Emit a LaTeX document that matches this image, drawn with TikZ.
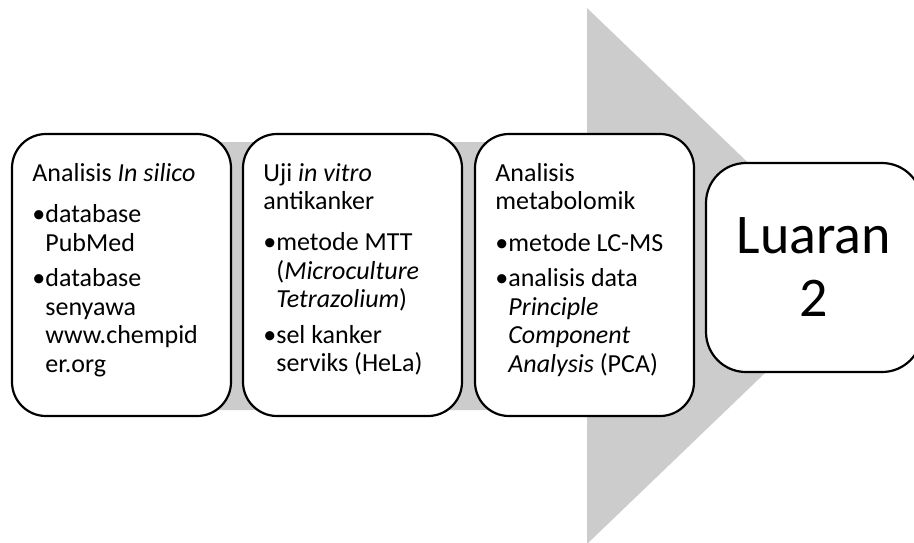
\documentclass[tikz,border=0pt]{standalone}
\usepackage{fontspec}
\setmainfont{Carlito}
\usetikzlibrary{positioning}
\definecolor{arrowgrey}{HTML}{CCCCCC}
% bullet item with hanging indent
\newcommand{\bul}[1]{\par\vspace{3.7pt}\hangindent=6.5pt\hangafter=1\noindent\makebox[6.5pt][l]{\textbullet}#1\par}

\begin{document}
\begin{tikzpicture}[
  x=0.5pt, y=-0.5pt,
  stage/.style={draw=black, line width=1.1pt, fill=white, rounded corners=17pt, minimum width=109.5pt, minimum height=141pt, inner sep=0pt},
  txt/.style={anchor=north west, inner sep=0pt, text width=97pt, align=flush left, font=\fontsize{13}{14.2}\selectfont}
]
\useasboundingbox (0,0) rectangle (914,542);
% Big arrow behind the stages
\fill[arrowgrey] (120,142) -- (587,142) -- (587,8) -- (866,276) -- (587,544) -- (587,410) -- (120,410) -- cycle;

% Stage 1
\node[stage] (s1) at (121.5,275) {};
\node[txt] (t1) at (32,163) {Analisis \textit{In silico}\par\vspace{2.7pt}
  \bul{database\newline PubMed}
  \bul{database\newline senyawa\newline www.chempid\newline er.org}};

% Stage 2
\node[stage] (s2) at (352.5,275) {};
\node[txt] (t2) at (263,163) {Uji \textit{in vitro}\newline antikanker\par\vspace{2.7pt}
  \bul{metode MTT\newline (\textit{Microculture}\newline \textit{Tetrazolium})}
  \bul{sel kanker\newline serviks (HeLa)}};

% Stage 3
\node[stage] (s3) at (584.5,275) {};
\node[txt] (t3) at (495,163) {Analisis\newline metabolomik\par\vspace{2.7pt}
  \bul{metode LC-MS}
  \bul{analisis data\newline \textit{Principle}\newline \textit{Component}\newline \textit{Analysis} (PCA)}};

% Output
\node[stage, rounded corners=20pt, minimum width=108pt, minimum height=104.5pt, align=center, font=\fontsize{28}{31.5}\selectfont] (s4) at (814,267.5) {Luaran\\2};
\end{tikzpicture}
\end{document}
